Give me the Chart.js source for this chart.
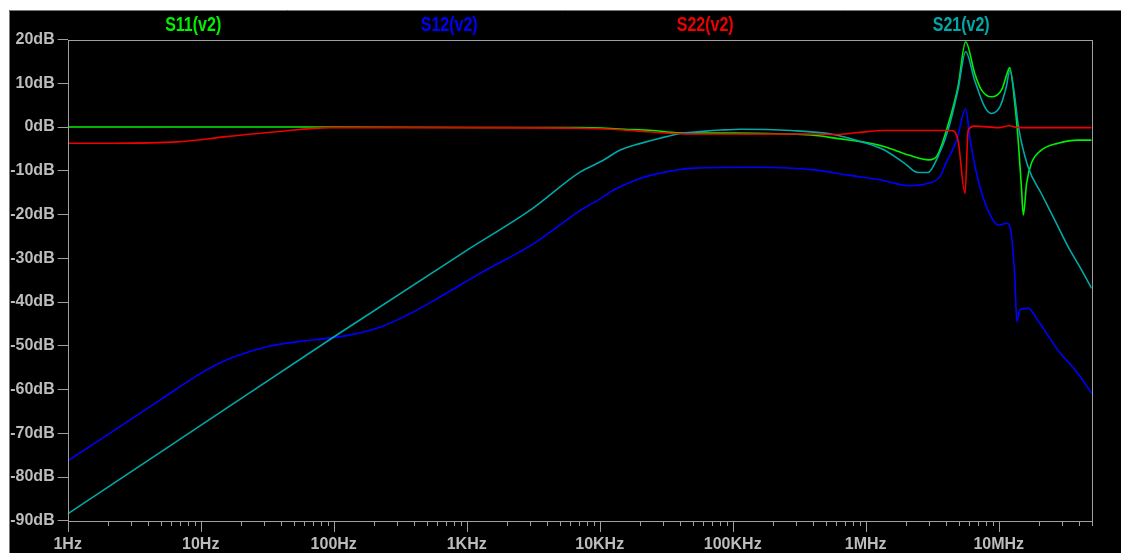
<!DOCTYPE html>
<html lang="en">
  <head>
    <meta charset="UTF-8" />
    <title>S-parameters</title>
    <script src="https://cdn.jsdelivr.net/npm/chart.js"></script>
    <style>
      body { margin: 0; background: #fff; }
    </style>
  </head>
  <body>
    <canvas id="sChart" width="1121" height="553"></canvas>
    <script>
      // axis labels
      const freqLabels = ["1Hz", "10Hz", "100Hz", "1KHz", "10KHz", "100KHz", "1MHz", "10MHz"];
      const seriesNames = ["S11(v2)", "S12(v2)", "S22(v2)", "S21(v2)"];
      const seriesColors = ["#00f000", "#0000ff", "#f00000", "#00a8a8"];

      // S11 (green)
      const s11Freq = [1, 100, 1000, 7200, 15300, 25000, 38000, 95000, 186000, 440000, 600000, 990000,
        1390000, 2100000, 2980000, 3400000, 4160000, 4940000, 5640000, 6590000, 7410000, 8800000,
        10500000, 11800000, 12100000, 13200000, 14000000, 14800000, 15300000, 16200000, 17600000,
        20900000, 28000000, 39600000, 50000000];
      const s11Db = [0, 0, -0.1, -0.1, -0.5, -0.8, -1.3, -1.4, -1.5, -2.0, -2.6, -3.5,
        -4.5, -6.4, -7.5, -6.8, 0.5, 9.2, 19.5, 12.3, 8.5, 6.9,
        8.5, 13.0, 13.6, 5.4, -3.0, -13.6, -20.1, -12.9, -8.3,
        -5.3, -3.7, -3.0, -3.0];

      // S12 (blue)
      const s12Freq = [1, 2, 5, 10, 15.7, 31.5, 56, 89, 133, 225, 356, 633, 1270, 3210, 7200, 10200,
        12700, 20300, 32400, 51000, 155000, 412000, 734000, 1310000, 2100000, 2900000, 3600000,
        4000000, 4830000, 5640000, 6100000, 7000000, 8400000, 9900000, 11500000, 12300000,
        13200000, 13700000, 14400000, 16600000, 19600000, 27900000, 39300000, 50000000];
      const s12Db = [-76.3, -70.3, -62.3, -56.3, -53.2, -50.2, -49.0, -48.3, -47.5, -45.7, -43.0, -38.8,
        -33.4, -26.6, -19.0, -16.3, -14.4, -11.7, -10.2, -9.4, -9.2, -9.8, -11.0, -12.1, -13.4,
        -12.9, -11.4, -8.3, -3.0, 4.1, -3.0, -12.1, -19.4, -22.4, -22.0, -23.5,
        -34.2, -44.5, -41.8, -41.4, -44.1, -51.0, -56.3, -60.9];

      // S22 (red)
      const s22Freq = [1, 2.2, 6.6, 15.7, 37, 94, 1000, 7200, 15100, 23000, 48600, 369000, 600000,
        850000, 1390000, 4400000, 4940000, 5580000, 5890000, 6590000, 10000000, 12000000,
        14000000, 50000000];
      const s22Db = [-3.7, -3.7, -3.4, -2.2, -1.1, -0.15, -0.15, -0.3, -0.7, -1.1, -1.6, -1.6, -1.7,
        -1.3, -0.8, -0.8, -3.0, -15.2, -0.7, 0.2, -0.15, 0.3, -0.15, -0.15];

      // S21 (teal)
      const s21Freq = [1, 10, 100, 1000, 3000, 7200, 10200, 14400, 20000, 28800, 40800, 60000, 81600,
        115000, 275000, 550000, 930000, 1390000, 1960000, 2470000, 2940000, 3490000, 4160000, 4940000,
        5640000, 6590000, 7840000, 8800000, 10200000, 11400000, 12100000, 13200000, 14000000,
        16600000, 20900000, 26400000, 33300000, 42000000, 50000000];
      const s21Db = [-88.4, -68.2, -48.0, -28.2, -19.0, -10.2, -7.9, -5.2, -3.8, -2.5, -1.5, -1.0, -0.7,
        -0.5, -0.8, -1.6, -3.4, -5.3, -8.3, -10.4, -10.4, -6.8, -0.7, 8.5,
        17.2, 10.7, 4.6, 3.1, 4.6, 9.2, 12.9, 6.9, 0.5,
        -9.1, -15.2, -21.3, -27.4, -32.7, -36.9];

      const toPoints = (f, d) => f.map((x, i) => ({ x: x, y: d[i] }));

      const axisGray = "#a0a0a0";
      const labelGray = "#bdbdbd";
      const tickFont = { family: "'Liberation Sans', Arial, sans-serif", size: 16, weight: "bold" };

      function line(name, idx, f, d) {
        return {
          label: name,
          data: toPoints(f, d),
          borderColor: seriesColors[idx],
          borderWidth: 1.6,
          pointRadius: 0,
          fill: false,
          cubicInterpolationMode: "monotone",
        };
      }

      const ltspiceLook = {
        id: "ltspiceLook",
        beforeDraw(chart) {
          const ctx = chart.ctx;
          ctx.save();
          ctx.fillStyle = "#ffffff";
          ctx.fillRect(0, 0, chart.width, chart.height);
          ctx.fillStyle = "#000000";
          ctx.fillRect(9, 10, chart.width - 9, chart.height - 10);
          ctx.strokeStyle = "#7a7a7a";
          ctx.lineWidth = 1;
          ctx.beginPath();
          ctx.moveTo(9.5, chart.height);
          ctx.lineTo(9.5, 10.5);
          ctx.lineTo(chart.width, 10.5);
          ctx.stroke();
          ctx.restore();
        },
        afterDraw(chart) {
          const ctx = chart.ctx;
          const a = chart.chartArea;
          const xs = chart.scales.x;
          ctx.save();
          // plot frame
          ctx.strokeStyle = axisGray;
          ctx.lineWidth = 1;
          ctx.strokeRect(Math.round(a.left) + 0.5, Math.round(a.top) + 0.5,
            Math.round(a.right - a.left), Math.round(a.bottom - a.top));
          // x tick marks, long at decades
          ctx.beginPath();
          xs.ticks.forEach((t) => {
            const px = Math.round(xs.getPixelForValue(t.value)) + 0.5;
            const len = t.label ? 11 : 5;
            ctx.moveTo(px, Math.round(a.bottom));
            ctx.lineTo(px, Math.round(a.bottom) + len);
          });
          ctx.stroke();
          // trace names on top
          ctx.font = "bold 16px 'Liberation Sans', Arial, sans-serif";
          ctx.textAlign = "center";
          ctx.textBaseline = "middle";
          const w = (a.right - a.left) / 4;
          seriesNames.forEach((n, i) => {
            ctx.save();
            ctx.translate(a.left + w * (i + 0.5) - 2.5, 25);
            ctx.scale(1, 1.25);
            ctx.fillStyle = seriesColors[i];
            ctx.fillText(n, 0, 0);
            ctx.restore();
          });
          ctx.restore();
        },
      };

      new Chart(document.getElementById("sChart"), {
        type: "line",
        data: {
          datasets: [
            line("S22(v2)", 2, s22Freq, s22Db),
            line("S21(v2)", 3, s21Freq, s21Db),
            line("S12(v2)", 1, s12Freq, s12Db),
            line("S11(v2)", 0, s11Freq, s11Db),
          ],
        },
        options: {
          responsive: false,
          animation: false,
          devicePixelRatio: 1,
          layout: { padding: { left: 0, right: 29.3, top: 39.5, bottom: 0 } },
          plugins: { legend: { display: false }, tooltip: { enabled: false } },
          scales: {
            x: {
              type: "logarithmic",
              min: 1,
              max: 50000000,
              afterBuildTicks: (scale) => {
                const ticks = [];
                for (let d = 1; d <= 1e7; d *= 10) {
                  for (let m = 1; m <= 9; m++) {
                    if (m * d <= 5e7) ticks.push({ value: m * d });
                  }
                }
                scale.ticks = ticks;
              },
              afterFit: (scale) => { scale.height = 32.2; },
              grid: { display: false, drawTicks: false },
              border: { display: false },
              ticks: {
                autoSkip: false,
                maxRotation: 0,
                padding: 14,
                color: labelGray,
                font: tickFont,
                callback: (v) => {
                  const e = Math.log10(v);
                  return Math.abs(e - Math.round(e)) < 1e-6 ? freqLabels[Math.round(e)] : "";
                },
              },
            },
            y: {
              min: -90,
              max: 20,
              afterFit: (scale) => { scale.width = 67.7; },
              grid: { drawOnChartArea: false, drawTicks: true, tickLength: 10, color: axisGray },
              border: { display: false },
              ticks: {
                stepSize: 10,
                padding: 3,
                color: labelGray,
                font: tickFont,
                callback: (v) => v + "dB",
              },
            },
          },
        },
        plugins: [ltspiceLook],
      });
    </script>
  </body>
</html>
